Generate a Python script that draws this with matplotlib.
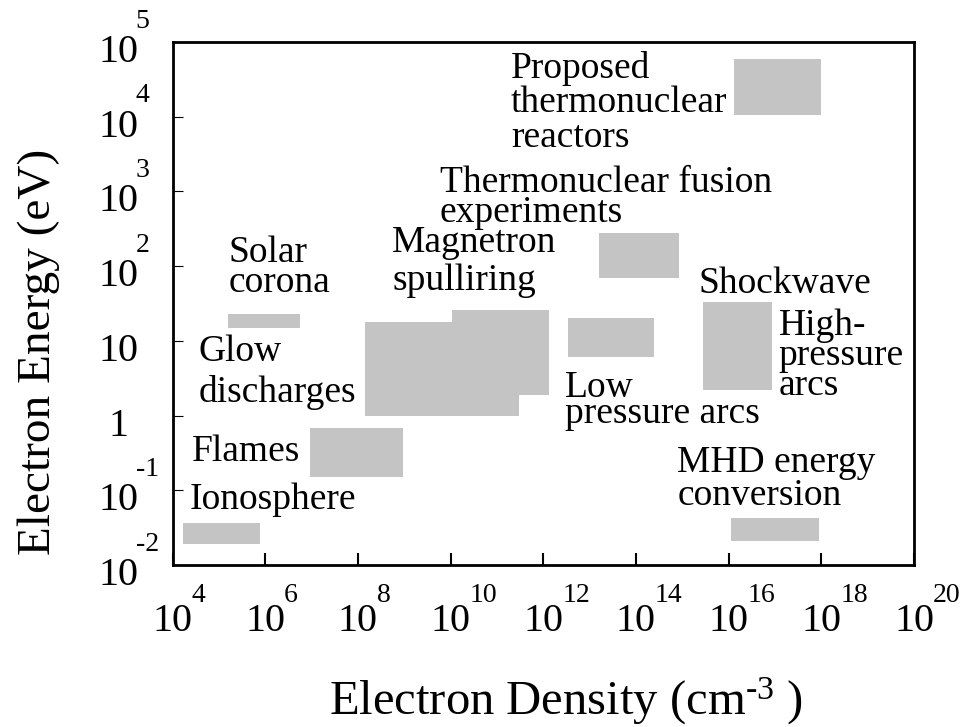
import matplotlib
matplotlib.use('Agg')
import matplotlib.pyplot as plt
from matplotlib.ticker import NullLocator
from matplotlib.transforms import ScaledTranslation

plt.rcParams['font.family'] = ['Liberation Serif', 'DejaVu Serif']
plt.rcParams['mathtext.fontset'] = 'custom'
plt.rcParams['mathtext.rm'] = 'Liberation Serif'
plt.rcParams['mathtext.it'] = 'Liberation Serif:italic'

# plasma regions: electron density range (cm^-3) and electron energy range (eV)
regions = ['Ionosphere', 'Flames', 'Solar corona', 'Glow discharges',
           'Magnetron sputtering', 'Low pressure arcs',
           'Thermonuclear fusion experiments', 'Shockwave / high-pressure arcs',
           'Proposed thermonuclear reactors', 'MHD energy conversion']
n_lo = [1.7e4, 9.3e6, 1.6e5, 1.4e8, 1.1e10, 3.4e12, 1.6e13, 2.8e15, 1.3e16, 1.1e16]
n_hi = [7.8e5, 9.5e8, 5.7e6, 3.0e11, 1.3e12, 2.5e14, 8.5e14, 8.7e16, 9.6e17, 8.7e17]
e_lo = [0.019, 0.15, 15, 0.98, 1.9, 6.0, 69, 2.2, 1.05e4, 0.021]
e_hi = [0.036, 0.68, 23, 18, 26, 20.5, 275, 33, 5.9e4, 0.043]

# region captions (anchored at the baseline of their last line)
labels = ['Ionosphere', 'Flames', 'Solar\ncorona', 'Glow\ndischarges',
          'Magnetron\nspulliring', 'Low\npressure arcs',
          'Thermonuclear fusion\nexperiments', 'Shockwave', 'High-\npressure\narcs',
          'Proposed\nthermonuclear\nreactors', 'MHD energy\nconversion']
label_n = [2.3e4, 2.6e4, 1.6e5, 3.6e4, 5.5e8, 2.9e12, 5.9e9, 2.2e15, 1.2e17, 2.0e11, 7.8e14]
label_e = [0.057, 0.25, 45, 1.52, 48, 0.794, 390, 44, 1.88, 3.94e3, 0.0635]
label_ls = [1.0, 1.0, 0.84, 1.22, 1.15, 0.68, 0.84, 1.0, 0.84, 1.0, 0.95]

# decade ticks
x_exp = [4, 6, 8, 10, 12, 14, 16, 18, 20]
y_exp = [-2, -1, 0, 1, 2, 3, 4, 5]
y_base = ['10', '10', '1', '10', '10', '10', '10', '10']
y_sup = ['-2', '-1', '', '', '2', '3', '4', '5']

fig = plt.figure(figsize=(9.6, 7.27), dpi=100)
ax = fig.add_axes([0.1797, 0.2228, 0.7724, 0.7194])
ax.set_xscale('log')
ax.set_yscale('log')
ax.set_xlim(1e4, 1e20)
ax.set_ylim(1e-2, 1e5)

widths = [hi - lo for lo, hi in zip(n_lo, n_hi)]
heights = [hi - lo for lo, hi in zip(e_lo, e_hi)]
ax.bar(n_lo, heights, width=widths, bottom=e_lo, align='edge',
       color='#c4c4c4', linewidth=0)

for s, x, y, ls in zip(labels, label_n, label_e, label_ls):
    ax.text(x, y, s, fontsize=27, ha='left', va='baseline', linespacing=ls)

ax.set_xticks([10.0 ** e for e in x_exp], ['10'] * len(x_exp))
ax.set_yticks([10.0 ** e for e in y_exp], y_base)
ax.xaxis.set_minor_locator(NullLocator())
ax.yaxis.set_minor_locator(NullLocator())
ax.tick_params(axis='x', direction='in', length=8.5, width=1.5, pad=27, labelsize=29)
ax.tick_params(axis='y', direction='in', length=7, width=0.8, pad=39, labelsize=29)

shift = ScaledTranslation(0, -0.06, fig.dpi_scale_trans)
for lab in ax.get_yticklabels():
    lab.set_ha('center')
    lab.set_transform(lab.get_transform() + shift)

# exponents sit high and to the right of the "10"
for e in x_exp:
    ax.annotate(str(e), xy=(10.0 ** e, 0), xycoords=('data', 'axes fraction'),
                xytext=(19, -27), textcoords='offset pixels', ha='left',
                va='center_baseline', fontsize=20, annotation_clip=False)
for e, sup in zip(y_exp, y_sup):
    if sup:
        ax.annotate(sup, xy=(0, 10.0 ** e), xycoords=('axes fraction', 'data'),
                    xytext=(-37, 24), textcoords='offset pixels', ha='left',
                    va='center_baseline', fontsize=20, annotation_clip=False)

for sp in ax.spines.values():
    sp.set_linewidth(2.0)

ax.set_xlabel('Electron Density (cm$^{\\text{-3}}$ )', fontsize=35)
ax.xaxis.set_label_coords(0.531, -0.2868)
ax.xaxis.label.set_va('baseline')
ax.set_ylabel('Electron Energy (eV)', fontsize=34)
ax.yaxis.set_label_coords(-0.165, 0.407)
ax.yaxis.label.set_va('baseline')

fig.savefig('out.png', dpi=100, facecolor='white')
